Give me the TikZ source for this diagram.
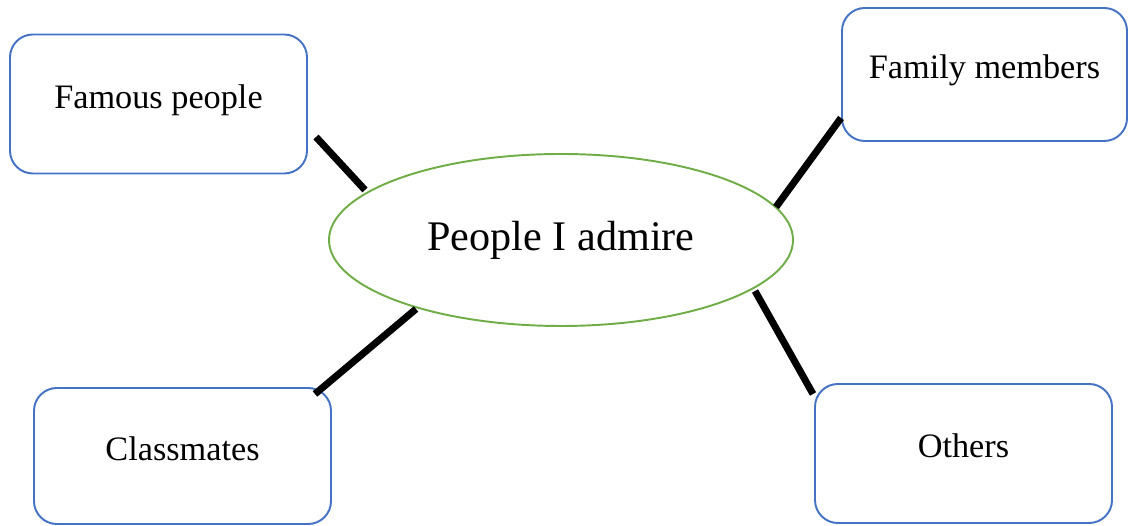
\documentclass[tikz,border=0pt]{standalone}
\usepackage{fontspec}
\setmainfont{Liberation Serif}
\usepackage{xcolor}
\usetikzlibrary{shapes.geometric, positioning, calc}
\definecolor{boxblue}{HTML}{4472C4}
\definecolor{leafgreen}{HTML}{70AD47}

\begin{document}
\begin{tikzpicture}[font=\fontsize{19.5pt}{22pt}\selectfont,
    topicbox/.style={rectangle, rounded corners=13pt, minimum width=5.94cm, minimum height=2.78cm,
      text centered, draw=boxblue, line width=1.1pt, align=center, text height=14pt, text depth=9.4pt},
    spoke/.style={line width=4pt, black}]

    \useasboundingbox (0,0) rectangle (22.58,10.52);

    \node (admire) [ellipse, draw=leafgreen, line width=1.1pt, minimum width=9.28cm,
      minimum height=3.44cm, font=\fontsize{24pt}{27pt}\selectfont] at (11.22,5.72) {People I admire};

    \node (famous) [topicbox] at (3.17,8.44) {Famous people};
    \node (family) [topicbox, minimum width=5.7cm, minimum height=2.66cm] at (19.69,9.03) {Family members};
    \node (classmates) [topicbox, minimum height=2.72cm] at (3.65,1.40) {Classmates};
    \node (others) [topicbox] at (19.27,1.45) {Others};

    % spoke ends
    \coordinate (famousend) at (6.32,7.78);
    \coordinate (familyend) at (16.82,8.16);
    \coordinate (classend) at (6.30,2.64);
    \coordinate (othersend) at (16.26,2.64);
    \coordinate (famousstart) at (7.30,6.72);
    \coordinate (familystart) at (15.52,6.38);
    \coordinate (classstart) at (8.32,4.34);
    \coordinate (othersstart) at (15.10,4.70);

    \draw [spoke] (famousstart) -- (famousend);
    \draw [spoke] (familystart) -- (familyend);
    \draw [spoke] (classstart) -- (classend);
    \draw [spoke] (othersstart) -- (othersend);
\end{tikzpicture}
\end{document}
